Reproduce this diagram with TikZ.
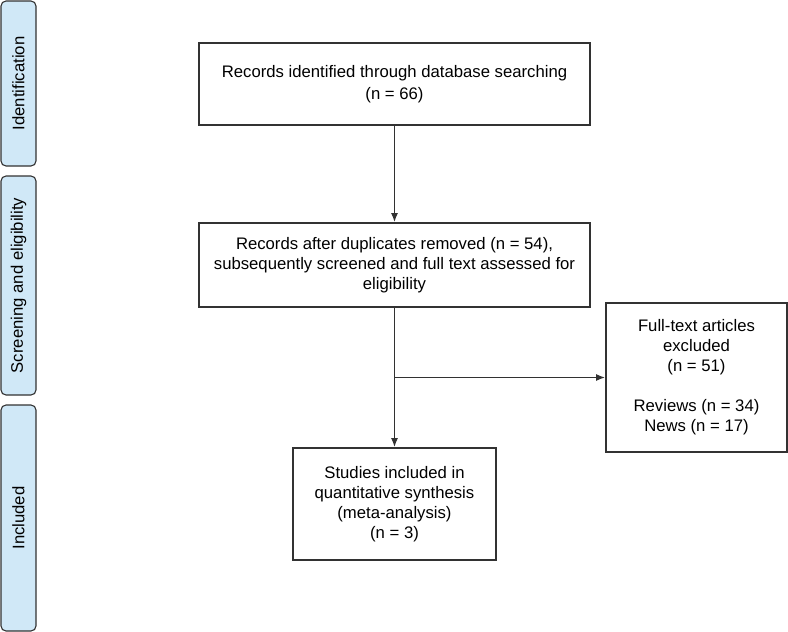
\documentclass[tikz,border=0pt]{standalone}
\usepackage{fontspec}
\setmainfont{Liberation Sans}
\usetikzlibrary{arrows.meta}
\definecolor{phaseblue}{RGB}{208,232,247}
\definecolor{linegray}{RGB}{50,50,50}
\begin{document}
\begin{tikzpicture}[x=1pt, y=-1pt, draw=linegray, line width=1.6pt,
	box/.style={draw, fill=white, align=center, inner sep=0pt, font=\fontsize{16.7}{20}\selectfont},
	phase/.style={draw, fill=phaseblue, rounded corners=5pt, rotate=90, inner sep=0pt, line width=1.1pt, font=\fontsize{16.7}{20}\selectfont},
	arr/.style={-{Latex[length=9pt,width=7pt]}}]
	\useasboundingbox (0,0) rectangle (788,632);
	% phases
	\node (P1) at (18.5, 83.5)	[phase, minimum width=165, minimum height=35]	{Identification};
	\node (P2) at (18.5, 285.5)	[phase, minimum width=219, minimum height=35]	{Screening and eligibility};
	\node (P3) at (18.5, 518)	[phase, minimum width=226, minimum height=35]	{Included};
	% boxes
	\node (rec) at (394.5, 84)	[box, minimum width=391, minimum height=82]	{Records identified through database searching\\[2pt](n = 66)};
	\node (scr) at (394.5, 265)	[box, minimum width=391, minimum height=84]	{Records after duplicates removed (n = 54),\\subsequently screened and full text assessed for\\eligibility};
	\node (exc) at (696.5, 377.5)	[box, minimum width=181, minimum height=149]	{Full-text articles\\excluded\\(n = 51)\\[20pt]Reviews (n = 34)\\ News (n = 17)};
	\node (inc) at (394.5, 504)	[box, minimum width=203, minimum height=112]	{Studies included in\\quantitative synthesis\\(meta-analysis)\\(n = 3)};
	\coordinate (split) at (scr.south |- exc.west);
	\draw[arr] (rec) -- (scr);
	\draw[arr] (scr) -- (inc);
	\draw[arr] (split) -- (exc);
\end{tikzpicture}
\end{document}
